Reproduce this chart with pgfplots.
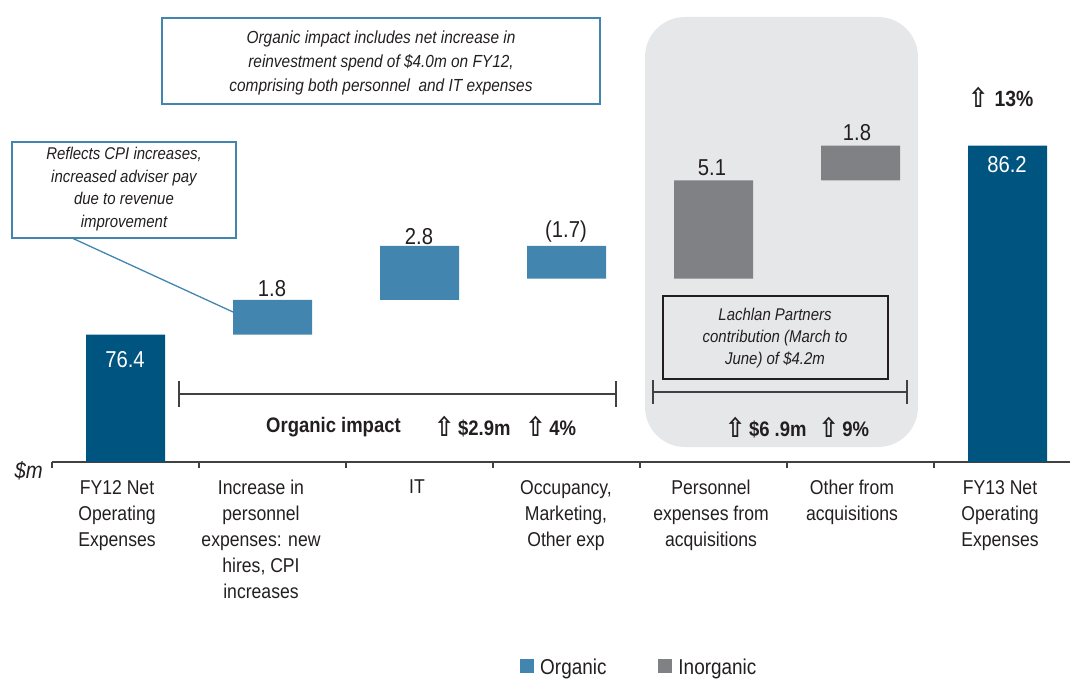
\documentclass[border=0pt]{standalone}
\usepackage{pgfplots}
\pgfplotsset{compat=1.18}
\usepackage{fontspec}
\setmainfont{Liberation Sans}[FakeStretch=0.88]
\newfontfamily\arrowfont{DejaVu Sans}[FakeStretch=0.9]

\definecolor{darkblue}{RGB}{0,84,128}
\definecolor{lightblue}{RGB}{66,134,175}
\definecolor{inorg}{RGB}{128,129,132}
\definecolor{bggray}{RGB}{230,231,233}
\definecolor{txt}{RGB}{35,31,32}
\definecolor{axisgray}{RGB}{65,65,65}

\newcommand\fs[2]{\fontsize{#1}{#2}\selectfont}
\newcommand\up{\raisebox{-1pt}{\arrowfont\bfseries\fontsize{27}{27}\selectfont ⇧}}

\begin{document}
\begin{tikzpicture}
% grey panel behind the acquisition bars
\begin{scope}[x=1pt,y=-1pt]
\fill[bggray, rounded corners=40pt] (645,17) rectangle (918,447);
\end{scope}

\begin{axis}[
    at={(52pt,-462pt)}, anchor=south west,
    scale only axis, width=1018pt, height=462pt,
    xmin=-0.5, xmax=6.425, ymin=69.8, ymax=93.75,
    ybar stacked, bar width=79pt,
    axis x line*=bottom, axis y line=none,
    xtick={-0.5,0.5,1.5,2.5,3.5,4.5,5.5}, xticklabel=\empty, ytick=\empty,
    tick align=outside, major tick length=6pt,
    x axis line style={draw=axisgray, line width=1.6pt},
    tick style={draw=axisgray, line width=1.2pt},
    legend columns=2,
    legend style={at={(0.4568,-0.4437)}, anchor=west, draw=none, fill=none,
        font=\fs{21.5}{24}, text=txt,
        /tikz/every odd column/.append style={column sep=4pt},
        /tikz/every even column/.append style={column sep=50pt}},
]
% invisible base of the waterfall
\addplot[draw=none, fill=none, forget plot] coordinates {
  (0,0) (1,76.4) (2,78.2) (3,79.3) (4,79.3) (5,84.4) (6,0)
};
% totals
\addplot[draw=none, fill=darkblue, forget plot] coordinates {
  (0,76.4) (1,0) (2,0) (3,0) (4,0) (5,0) (6,86.2)
};
% organic
\addplot[draw=none, fill=lightblue,
    legend image code/.code={\fill[lightblue] (0pt,-6pt) rectangle (14pt,8pt);}] coordinates {
  (0,0) (1,1.8) (2,2.8) (3,1.7) (4,0) (5,0) (6,0)
};
\addlegendentry{Organic}
% inorganic
\addplot[draw=none, fill=inorg,
    legend image code/.code={\fill[inorg] (0pt,-6pt) rectangle (14pt,8pt);}] coordinates {
  (0,0) (1,0) (2,0) (3,0) (4,5.1) (5,1.8) (6,0)
};
\addlegendentry{Inorganic}
\end{axis}

\begin{scope}[x=1pt,y=-1pt, every node/.style={text=txt, inner sep=0pt}]
% value labels
\node[font=\fs{23}{26}] at (272,289) {1.8};
\node[font=\fs{23}{26}] at (419,237) {2.8};
\node[font=\fs{23}{26}] at (566,232) {(1.7)};
\node[font=\fs{23}{26}] at (712,168) {5.1};
\node[font=\fs{23}{26}] at (857,133) {1.8};
\node[font=\fs{23}{26}, text=white] at (125,360) {76.4};
\node[font=\fs{23}{26}, text=white] at (1007,165) {86.2};

% category labels
\begin{scope}[every node/.append style={font=\fs{20}{26}, align=center, anchor=north}]
\node at (117,480) {FY12 Net\\Operating\\Expenses};
\node at (261,480) {Increase in\\personnel\\expenses: new\\hires, CPI\\increases};
\node at (417,480) {IT};
\node at (566,480) {Occupancy,\\Marketing,\\Other exp};
\node at (711,480) {Personnel\\expenses from\\acquisitions};
\node at (852,480) {Other from\\acquisitions};
\node at (1000,480) {FY13 Net\\Operating\\Expenses};
\end{scope}
\node[font=\fs{23}{26}\itshape, anchor=east] at (43,471) {\$m};

% annotation boxes
\draw[lightblue, line width=1.3pt] (162,18) rectangle (600,104);
\node[font=\fs{17.5}{24}\itshape, align=center] at (381,63)
  {Organic impact includes net increase in\\reinvestment spend of \$4.0m on FY12,\\comprising both personnel~ and IT expenses};
\draw[lightblue, line width=1.3pt] (72,238) -- (233,312);
\draw[lightblue, line width=1.3pt, fill=white] (12,142) rectangle (236,238);
\node[font=\fs{17}{22.5}\itshape, align=center] at (124,189)
  {Reflects CPI increases,\\increased adviser pay\\due to revenue\\improvement};
\draw[txt, line width=1.3pt] (663,296) rectangle (888,379);
\node[font=\fs{17}{22}\itshape, align=center] at (775,338)
  {Lachlan Partners\\contribution (March to\\June) of \$4.2m};

% brackets
\draw[axisgray, line width=1.3pt] (179,394) -- (616,394)
  (179,381) -- (179,407) (616,381) -- (616,407);
\draw[axisgray, line width=1.3pt] (653,392) -- (907,392)
  (653,380) -- (653,404) (907,380) -- (907,404);

% growth figures
\node[font=\fs{21}{24}\bfseries, anchor=west] at (266,427) {Organic impact};
\node[font=\fs{21}{24}\bfseries, anchor=west] at (434,427) {\up\,\$2.9m\hspace{15pt}\up\,4\%};
\node[font=\fs{21}{24}\bfseries, anchor=west] at (725,428) {\up\,\$6 .9m\hspace{12pt}\up\,9\%};
\node[font=\fs{22}{24}\bfseries, anchor=west] at (968,97) {\up\hspace{6pt}13\%};
\end{scope}

\pgfresetboundingbox
\useasboundingbox (0pt,0pt) rectangle (1070pt,-682pt);
\end{tikzpicture}
\end{document}
